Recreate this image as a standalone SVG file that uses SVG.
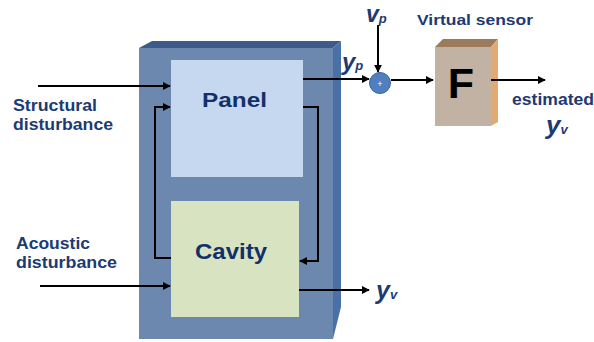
<svg xmlns="http://www.w3.org/2000/svg" width="594" height="342" viewBox="0 0 594 342">
<defs>
<marker id="ah" viewBox="0 0 10 10" refX="9" refY="5" markerWidth="4" markerHeight="4" markerUnits="strokeWidth" orient="auto">
<path d="M0,0 L10,5 L0,10 z" fill="#000"/>
</marker>
<style>
.lbl{font-family:"Liberation Sans",Arial,sans-serif;font-weight:bold;fill:#1d3a72;}
.blk{font-family:"Liberation Sans",Arial,sans-serif;font-weight:bold;fill:#13306a;}
.var{font-family:"Liberation Sans",Arial,sans-serif;font-weight:bold;font-style:italic;fill:#1d3a72;}
.ln{fill:none;stroke:#000;stroke-width:2;marker-end:url(#ah);}
</style>
</defs>
<rect width="594" height="342" fill="#fff"/>
<g id="system">
<polygon points="139,48 152,41 341,41 333,48" fill="#3d5b88"/>
<polygon points="333,48 341,41 341,307 333,339" fill="#4a70a8"/>
<rect x="139" y="48" width="194" height="291" fill="#6c88af"/>
</g>
<g id="panel">
<rect x="171" y="60" width="132" height="117" fill="#c6d8ef"/>
<text class="blk" x="202" y="107" font-size="20" textLength="65" lengthAdjust="spacingAndGlyphs">Panel</text>
</g>
<g id="cavity">
<rect x="171" y="201" width="128" height="116" fill="#d8e4c1"/>
<text class="blk" x="195" y="259" font-size="22" textLength="72" lengthAdjust="spacingAndGlyphs">Cavity</text>
</g>
<g id="sum">
<circle cx="380" cy="83" r="10.5" fill="#4f7fbf" stroke="#3a64a0" stroke-width="1"/>
<text x="380" y="86.5" font-family="Liberation Sans,Arial,sans-serif" font-size="9" fill="#fff" text-anchor="middle">+</text>
</g>
<g id="filter">
<polygon points="435,47 443,39 498,39 491,47" fill="#9b7b5b"/>
<polygon points="491,47 498,39 498,122 491,126" fill="#e2aa72"/>
<rect x="435" y="47" width="56" height="79" fill="#c1b2a3"/>
<text x="461" y="98" font-family="Liberation Sans,Arial,sans-serif" font-weight="bold" font-size="43" fill="#000" text-anchor="middle">F</text>
</g>
<g id="labels">
<text class="lbl" x="13" y="111" font-size="16" textLength="84" lengthAdjust="spacingAndGlyphs">Structural</text>
<text class="lbl" x="13" y="130" font-size="16" textLength="100" lengthAdjust="spacingAndGlyphs">disturbance</text>
<text class="lbl" x="16" y="249" font-size="16" textLength="74" lengthAdjust="spacingAndGlyphs">Acoustic</text>
<text class="lbl" x="16" y="268" font-size="16" textLength="101" lengthAdjust="spacingAndGlyphs">disturbance</text>
<text class="lbl" x="417" y="25" font-size="14" textLength="116" lengthAdjust="spacingAndGlyphs">Virtual sensor</text>
<text class="lbl" x="512" y="105" font-size="16.5" textLength="82" lengthAdjust="spacingAndGlyphs">estimated</text>
<text class="var" x="366" y="22" font-size="23">v<tspan font-size="13" dy="1">p</tspan></text>
<text class="var" x="342" y="70" font-size="24">y<tspan font-size="13" dy="0">p</tspan></text>
<text class="var" x="376" y="299" font-size="25">y<tspan font-size="13">v</tspan></text>
<text class="var" x="546" y="134" font-size="26">y<tspan font-size="13">v</tspan></text>
</g>
<g id="connectors">
<path class="ln" d="M38,86 H170"/>
<path class="ln" d="M40,286 H170"/>
<path class="ln" d="M171,258 H155 V107 H170"/>
<path class="ln" d="M303,107 H318 V261 H300"/>
<path class="ln" d="M299,290 H369"/>
<path class="ln" d="M303,79 H369"/>
<path class="ln" d="M378,25 V72"/>
<path class="ln" d="M391,80 H433"/>
<path class="ln" d="M491,80 H545"/>
</g>
</svg>
